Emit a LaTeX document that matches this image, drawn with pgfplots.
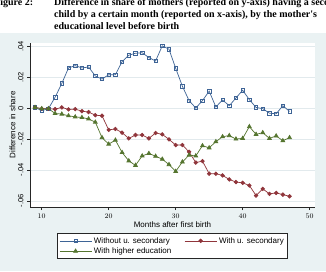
\documentclass[border=0pt]{standalone}
\usepackage{pgfplots}
\pgfplotsset{compat=1.18}
\usepackage{pgfplotstable}
\usetikzlibrary{backgrounds,calc}
\usepackage{fontspec}
\setmainfont{Liberation Sans}
\newfontfamily\capfont{Liberation Serif}
\definecolor{bg}{RGB}{234,242,243}
\definecolor{gridc}{RGB}{226,234,237}
\definecolor{c1}{RGB}{62,100,150}
\definecolor{c2}{RGB}{144,53,59}
\definecolor{c3}{RGB}{85,117,47}

\pgfplotstableread{
m b r g
9 0.0004 0.0004 0.0004
10 -0.0017 -0.0004 -0.0004
11 -0.0004 -0.0004 -0.0004
12 0.0070 -0.0007 -0.0035
13 0.0159 0.0004 -0.0039
14 0.0259 -0.0009 -0.0050
15 0.0274 -0.0007 -0.0057
16 0.0259 -0.0020 -0.0061
17 0.0265 -0.0026 -0.0070
18 0.0207 -0.0046 -0.0091
19 0.0187 -0.0050 -0.0191
20 0.0215 -0.0141 -0.0233
21 0.0215 -0.0135 -0.0207
22 0.0300 -0.0159 -0.0287
23 0.0341 -0.0196 -0.0341
24 0.0354 -0.0174 -0.0370
25 0.0357 -0.0174 -0.0309
26 0.0326 -0.0196 -0.0293
27 0.0304 -0.0161 -0.0311
28 0.0402 -0.0170 -0.0330
29 0.0380 -0.0202 -0.0365
30 0.0257 -0.0239 -0.0409
31 0.0141 -0.0239 -0.0348
32 0.0048 -0.0283 -0.0304
33 0.0000 -0.0352 -0.0309
34 0.0048 -0.0343 -0.0243
35 0.0109 -0.0424 -0.0257
36 0.0007 -0.0424 -0.0217
37 0.0052 -0.0435 -0.0185
38 0.0015 -0.0461 -0.0178
39 0.0065 -0.0478 -0.0200
40 0.0115 -0.0483 -0.0196
41 0.0054 -0.0500 -0.0120
42 0.0004 -0.0565 -0.0170
43 -0.0004 -0.0522 -0.0159
44 -0.0033 -0.0554 -0.0196
45 -0.0037 -0.0548 -0.0180
46 0.0015 -0.0559 -0.0211
47 -0.0022 -0.0570 -0.0191
}\datatable

\begin{document}
\begin{tikzpicture}[x=1pt,y=1pt]
\begin{axis}[
  scale only axis, width=285pt, height=164pt,
  xmin=8.25, xmax=50.8, ymin=-0.0639, ymax=0.042,
  axis background/.style={fill=white},
  axis x line*=bottom, axis y line*=left,
  axis line style={-, line width=0.6pt, color=black!85},
  xtick={10,20,30,40,50},
  ytick={-0.06,-0.04,-0.02,0,0.02,0.04},
  yticklabels={-.06,-.04,-.02,0,.02,.04},
  scaled y ticks=false,
  tick align=outside, major tick length=3pt,
  tick style={line width=0.6pt, color=black!85},
  ymajorgrids, grid style={color=gridc, line width=0.6pt},
  tick label style={font=\fontsize{7.5}{9}\selectfont},
  yticklabel style={rotate=90, anchor=south},
  xlabel={Months after first birth},
  ylabel={Difference in share},
  label style={font=\fontsize{8}{9}\selectfont},
  xlabel style={at={(axis description cs:0.5,-0.1238)}, anchor=base},
  ylabel style={at={(axis description cs:-0.0614,0.5)}, anchor=center},
  legend columns=2,
  legend cell align=left,
  legend style={at={(0.5,-0.2378)}, anchor=center, draw=black!85, fill=white,
    line width=0.6pt, font=\fontsize{8}{9}\selectfont,
    inner xsep=2pt, inner ysep=1.5pt, row sep=-1pt,
    /tikz/every even column/.append style={column sep=11pt}},
  legend image code/.code={\draw[mark repeat=2,mark phase=2,#1] plot coordinates {(0pt,0pt)(16pt,0pt)(32pt,0pt)};},
]
\coordinate (sw) at (rel axis cs:0,0);
\addplot[c1, line width=0.7pt, mark=square, mark size=1.7pt, mark options={fill=white, solid, line width=0.6pt}] table[x=m, y=b] {\datatable};
\addlegendentry{Without u. secondary}
\addplot[c2, line width=0.7pt, mark=*, mark size=1.8pt, mark options={fill=c2, solid}] table[x=m, y=r] {\datatable};
\addlegendentry{With u. secondary}
\addplot[c3, line width=0.7pt, mark=triangle*, mark size=2.2pt, mark options={fill=c3, solid}] table[x=m, y=g] {\datatable};
\addlegendentry{With higher education}
\end{axis}
\coordinate (P) at ($(sw)+(-30,-64)$);
\begin{scope}[on background layer]
\fill[white] (P) rectangle ++(326,271);
\fill[bg] (P) rectangle ++(326,238);
\end{scope}
\tikzset{captxt/.style={anchor=base west, inner sep=0pt, font=\capfont\bfseries\fontsize{10}{12}\selectfont}}
\node[captxt] at ($(P)+(-6,265.5)$) {Figure 2:};
\node[captxt] at ($(P)+(54,265.5)$) {Difference in share of mothers (reported on y-axis) having a second};
\node[captxt] at ($(P)+(54,253.7)$) {child by a certain month (reported on x-axis), by the mother's};
\node[captxt] at ($(P)+(54,241.9)$) {educational level before birth};
\pgfresetboundingbox
\useasboundingbox (P) rectangle ++(326,271);
\end{tikzpicture}
\end{document}
